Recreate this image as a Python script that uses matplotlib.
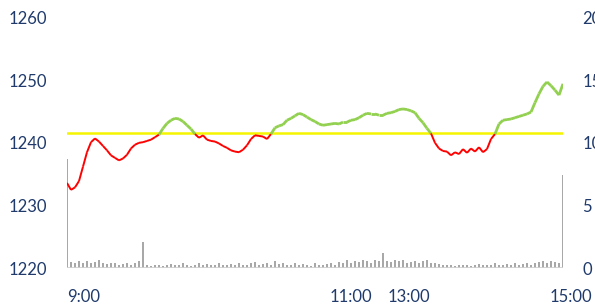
import numpy as np
import matplotlib
matplotlib.use("Agg")
import matplotlib.pyplot as plt
from matplotlib.collections import LineCollection

# price per sample (one sample ~ every 4 px of the original chart)
price = [
    1233.6, 1232.5, 1232.9, 1233.9, 1236.2, 1238.5, 1240.1, 1240.7, 1240.2, 1239.5,
    1238.8, 1238.0, 1237.6, 1237.2, 1237.5, 1238.1, 1239.1, 1239.7, 1240.0, 1240.1,
    1240.3, 1240.5, 1240.9, 1241.3, 1242.3, 1243.1, 1243.6, 1243.9, 1243.8, 1243.4,
    1242.8, 1242.2, 1241.4, 1240.8, 1241.2, 1240.5, 1240.3, 1240.2, 1239.9, 1239.5,
    1239.2, 1238.8, 1238.6, 1238.5, 1238.9, 1239.6, 1240.6, 1241.2, 1241.1, 1241.0,
    1240.6, 1241.4, 1242.4, 1242.7, 1242.9, 1243.6, 1243.9, 1244.3, 1244.7, 1244.5,
    1244.1, 1243.7, 1243.4, 1243.0, 1242.8, 1242.9, 1243.0, 1243.1, 1243.0, 1243.3,
    1243.3, 1243.6, 1243.7, 1244.0, 1244.4, 1244.7, 1244.6, 1244.6, 1244.4, 1244.4,
    1244.7, 1244.8, 1245.0, 1245.3, 1245.4, 1245.3, 1245.1, 1244.8, 1243.9, 1243.2,
    1242.3, 1241.5, 1240.0, 1239.1, 1238.7, 1238.6, 1238.0, 1238.5, 1238.2, 1239.0,
    1238.4, 1239.1, 1238.6, 1239.3, 1238.5, 1239.0, 1240.6, 1241.4, 1243.0, 1243.6,
    1243.7, 1243.8, 1244.0, 1244.2, 1244.4, 1244.6, 1244.9, 1246.4, 1247.8, 1249.0,
    1249.7, 1249.1, 1248.4, 1247.6, 1249.4,
]

volume = [
    8.7, 0.5, 0.4, 0.55, 0.45, 0.6, 0.4, 0.5, 0.65, 0.45,
    0.35, 0.45, 0.4, 0.3, 0.35, 0.4, 0.3, 0.45, 0.55, 2.1,
    0.25, 0.2, 0.25, 0.3, 0.2, 0.25, 0.35, 0.25, 0.3, 0.4,
    0.25, 0.2, 0.3, 0.45, 0.25, 0.35, 0.3, 0.25, 0.4, 0.3,
    0.25, 0.35, 0.3, 0.45, 0.25, 0.3, 0.4, 0.5, 0.3, 0.35,
    0.45, 0.3, 0.55, 0.35, 0.4, 0.3, 0.25, 0.45, 0.3, 0.35,
    0.25, 0.2, 0.4, 0.3, 0.25, 0.35, 0.45, 0.3, 0.5, 0.4,
    0.65, 0.45, 0.55, 0.5, 0.7, 0.6, 0.45, 0.65, 0.55, 1.25,
    0.6, 0.5, 0.7, 0.55, 0.65, 0.45, 0.5, 0.6, 0.4, 0.55,
    0.65, 0.45, 0.4, 0.35, 0.3, 0.25, 0.3, 0.2, 0.25, 0.3,
    0.25, 0.2, 0.3, 0.35, 0.25, 0.3, 0.25, 0.4, 0.3, 0.25,
    0.35, 0.3, 0.4, 0.25, 0.35, 0.45, 0.3, 0.4, 0.5, 0.6,
    0.45, 0.55, 0.5, 0.45, 7.45,
]

ref_price = 1241.5
time_labels = ["9:00", "11:00", "13:00", "15:00"]
time_label_pos = [0, 65.75, 80.25, 120.75]

txt_color = "#1f3a6b"
plt.rcParams["font.family"] = ["Lato", "DejaVu Sans"]

fig = plt.figure(figsize=(5.95, 3.07), dpi=100)
ax = fig.add_axes([0.1126, 0.126, 0.8336, 0.8176])
ax2 = ax.twinx()

x = np.arange(len(price))
p = np.array(price)

# volume on the right axis
ax2.bar(np.arange(len(volume)), volume, width=0.5, color="#a8a8a8", linewidth=0)
ax2.axhline(0, color="#d0d0d0", lw=2)
ax2.set_ylim(0, 20)
ax2.set_yticks([0, 5, 10, 15, 20])

# price line, red under the reference, green above
pts = np.column_stack([x, p])
segs = np.stack([pts[:-1], pts[1:]], axis=1)
mid = (p[:-1] + p[1:]) / 2
above = mid >= ref_price
cols = ["#92d050" if a else "#ff0000" for a in above]
widths = [2.0 if a else 1.4 for a in above]
ax.add_collection(LineCollection(segs, colors=cols, linewidths=widths))
ax.axhline(ref_price, color="#f5f500", lw=1.8, zorder=1)

ax.set_ylim(1220, 1260)
ax.set_yticks([1220, 1230, 1240, 1250, 1260])
ax.set_xlim(0, len(price) - 1)
ax.set_xticks(time_label_pos)
ax.set_xticklabels(time_labels)
for lbl in ax.get_xticklabels():
    lbl.set_ha("left")

ax.set_zorder(ax2.get_zorder() + 1)
ax.patch.set_visible(False)

for a in (ax, ax2):
    for s in a.spines.values():
        s.set_visible(False)
    a.tick_params(length=0, labelsize=12, labelcolor=txt_color)
ax.tick_params(axis="y", pad=14)
ax.tick_params(axis="x", pad=15)
ax2.tick_params(axis="y", pad=14)

fig.savefig("out.png", dpi=100)
